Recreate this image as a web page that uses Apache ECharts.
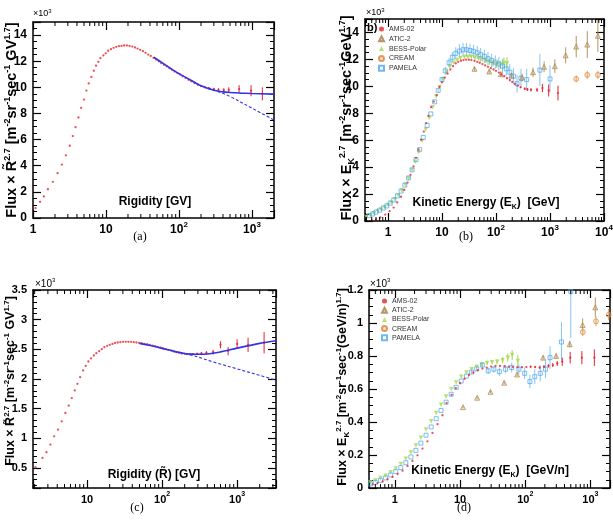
<!DOCTYPE html>
<html><head><meta charset="utf-8">
<script src="https://cdn.jsdelivr.net/npm/echarts@6/dist/echarts.min.js"></script>
<style>html,body{margin:0;padding:0;background:#fff}#c{width:613px;height:521px}</style>
</head><body><div id="c"></div>
<script>
// ---------------- DATA ----------------
// (a) proton flux x R^2.7 vs rigidity  [x, y(x10^3), err]
const aAms = [[1.08,0.76,0],[1.25,1.24,0],[1.41,1.65,0],[1.6,2.2,0],[1.87,2.77,0],[2.17,3.43,0],[2.49,4.09,0],[2.82,4.8,0],[3.19,5.53,0],[3.51,6.27,0],[3.82,6.95,0],[4.19,7.69,0],[4.56,8.43,0],[5.0,9.06,0],[5.39,9.75,0],[5.8,10.3,0],[6.3,10.8,0],[6.8,11.27,0],[7.3,11.65,0],[7.86,11.95,0],[8.4,12.23,0],[9.2,12.44,0],[9.9,12.6,0],[10.7,12.8,0],[11.7,12.92,0],[12.7,13.02,0],[13.8,13.1,0],[15.0,13.15,0],[16.3,13.17,0],[17.7,13.2,0],[19.3,13.2,0],[21,13.17,0],[22.9,13.12,0],[24.9,13.05,0],[27,12.97,0],[29.4,12.87,0],[32,12.77,0],[34.8,12.64,0],[37.9,12.51,0],[41,12.4,0],[44.7,12.26,0],[48.7,12.13,0],[53,11.98,0],[57,11.85,0],[62,11.73,0],[68,11.6,0],[74,11.47,0],[80,11.35,0],[87,11.22,0],[95,11.09,0],[103,10.99,0],[112,10.84,0],[123,10.71,0],[135,10.58,0],[148,10.46,0],[163,10.33,0.05],[181,10.2,0.05],[201,10.1,0.06],[226,10.0,0.07],[258,9.92,0.08],[300,9.87,0.09],[347,9.82,0.1],[410,9.8,0.12],[480,9.8,0.2],[665,9.87,0.3],[970,9.74,0.42],[1385,9.5,0.5]];
const aFit = [[45,12.3],[60,11.85],[80,11.38],[100,11.05],[150,10.5],[200,10.12],[300,9.78],[400,9.65],[500,9.6],[700,9.56],[1000,9.53],[2000,9.48]];
const aPow = [[250,9.95],[300,9.8],[500,9.3],[1000,8.4],[2000,7.5]];

// (b) proton flux x Ek^2.7 vs kinetic energy
const bAms = [[0.5,0.05,0],[0.6,0.12,0],[0.72,0.26,0],[0.89,0.48,0],[1.07,0.73,0],[1.27,1.0,0],[1.48,1.38,0],[1.74,1.8,0],[2.0,2.31,0],[2.3,2.85,0],[2.61,3.43,0],[2.97,4.06,0],[3.29,4.69,0],[3.67,5.31,0],[4.11,6.03,0],[4.61,6.64,0],[5.09,7.27,0],[5.61,7.81,0],[6.29,8.45,0],[7.06,8.87,0],[8.0,9.35,0],[9.0,9.95,0],[10,10.3,0],[11.3,10.65,0],[12.7,10.95,0],[14.3,11.25,0],[16,11.5,0],[18,11.7,0],[20,11.82,0],[22.5,11.9,0],[25,11.95,0],[28,11.98,0],[31.5,11.98,0],[35,11.95,0],[40,11.9,0],[45,11.82,0],[50,11.75,0],[56,11.65,0],[63,11.55,0],[71,11.45,0],[80,11.35,0],[90,11.25,0],[100,11.15,0],[113,11.02,0],[126,10.88,0],[142,10.75,0],[160,10.6,0],[180,10.45,0],[200,10.32,0],[225,10.18,0],[253,10.05,0],[285,9.93,0.05],[341,9.82,0.08],[383,9.77,0.1],[446,9.74,0.12],[576,9.74,0.15],[724,9.87,0.3],[946,9.69,0.45],[1406,9.5,0.55]];
const bAtic = [[40,11.3,0.15],[75,11.1,0.15],[123,10.9,0.2],[194,10.8,0.2],[304,10.65,0.3],[485,11.05,0.35],[778,11.45,0.4],[1230,11.5,0.5],[1950,12.3,0.6],[3060,12.95,0.8],[4900,13.1,1.0],[7700,13.75,1.2]];
const bBess = [[0.4,0.3,0],[0.47,0.43,0],[0.55,0.58,0],[0.65,0.72,0],[0.75,0.86,0],[0.87,1.02,0],[1.0,1.18,0],[1.15,1.38,0],[1.33,1.62,0],[1.55,1.92,0],[1.8,2.27,0],[2.1,2.7,0],[2.4,3.15,0],[2.8,3.78,0],[3.2,4.4,0],[3.7,5.1,0],[4.3,5.95,0],[5.0,6.8,0],[5.8,7.65,0],[6.7,8.45,0],[7.8,9.25,0],[9,9.95,0],[10.5,10.55,0],[12.2,11.05,0],[14,11.45,0],[16.5,11.75,0],[19,11.95,0],[22,12.1,0.1],[26,12.18,0.1],[30,12.2,0.1],[35,12.2,0.12],[41,12.15,0.12],[48,12.08,0.15],[56,12.0,0.15],[65,11.9,0.18],[76,11.8,0.2],[88,11.7,0.22],[103,11.62,0.25],[120,11.6,0.3],[140,11.75,0.4],[160,11.7,0.45]];
const bCream = [[3060,10.55,0.25],[4900,10.85,0.3],[7700,10.85,0.3]];
const bPamela = [[0.45,0.4,0],[0.52,0.52,0],[0.6,0.66,0],[0.7,0.8,0],[0.82,0.96,0],[0.95,1.12,0],[1.1,1.32,0],[1.28,1.56,0],[1.5,1.86,0],[1.75,2.22,0],[2.05,2.66,0],[2.4,3.2,0],[2.8,3.8,0],[3.3,4.55,0],[3.85,5.3,0],[4.5,6.2,0],[5.3,7.1,0],[6.2,7.95,0],[7.3,8.85,0],[8.5,9.7,0.1],[10,10.5,0.2],[11.5,11.15,0.3],[13.5,11.75,0.35],[15.5,12.15,0.4],[18,12.45,0.45],[21,12.62,0.5],[24.5,12.72,0.5],[28.5,12.72,0.5],[33,12.66,0.5],[38.5,12.6,0.5],[45,12.5,0.5],[52,12.35,0.5],[61,12.22,0.5],[71,12.05,0.5],[83,11.92,0.5],[97,11.8,0.5],[113,11.66,0.5],[132,11.5,0.55],[155,11.3,0.55],[180,11.05,0.6],[210,10.75,0.6],[245,10.2,0.65],[290,10.6,0.7],[370,10.5,0.8],[650,11.2,1.2],[1000,10.55,1.0]];

// (c) helium flux x R^2.7 vs rigidity
const cAms = [[2.05,0.51,0],[2.54,0.668,0],[2.87,0.763,0],[3.24,0.892,0],[3.63,1.032,0],[4.1,1.144,0],[4.59,1.285,0],[5.14,1.425,0],[5.7,1.548,0],[6.25,1.677,0],[6.85,1.806,0],[7.44,1.918,0],[8.07,2.03,0],[8.85,2.143,0],[9.6,2.221,0],[10.4,2.294,0],[11.3,2.345,0],[12.3,2.395,0],[13.3,2.434,0],[14.5,2.468,0],[15.7,2.502,0],[17,2.535,0],[18.5,2.558,0],[20,2.575,0],[21.8,2.591,0],[23.6,2.608,0],[25.6,2.614,0],[27.8,2.62,0],[30.2,2.625,0],[32.8,2.625,0],[35.6,2.625,0],[38.6,2.625,0],[41.9,2.62,0],[45.5,2.614,0],[49.4,2.608,0],[53.6,2.603,0],[58.1,2.591,0],[63.1,2.586,0],[68.5,2.575,0],[74.3,2.563,0],[80.7,2.552,0],[87.5,2.541,0],[95,2.53,0],[103,2.518,0],[112,2.502,0],[121,2.49,0],[132,2.479,0],[143,2.462,0],[155,2.451,0],[169,2.44,0],[183,2.429,0],[199,2.423,0],[215,2.418,0.01],[234,2.418,0.01],[259,2.418,0.015],[293,2.423,0.02],[334,2.429,0.025],[390,2.44,0.03],[479,2.45,0.04],[600,2.575,0.06],[759,2.47,0.07],[1000,2.59,0.08],[1400,2.575,0.12],[2290,2.61,0.18]];
const cFit = [[50,2.6],[70,2.565],[100,2.515],[150,2.46],[200,2.43],[250,2.418],[300,2.415],[400,2.42],[600,2.456],[1000,2.52],[2000,2.6],[3300,2.645]];
const cPow = [[200,2.43],[300,2.37],[500,2.28],[1000,2.17],[2000,2.06],[3300,1.98]];

// (d) helium flux x Ek^2.7 vs kinetic energy per nucleon
const dAms = [[0.455,0.022,0],[0.54,0.03,0],[0.65,0.04,0],[0.77,0.053,0],[0.92,0.067,0],[1.1,0.085,0],[1.31,0.105,0],[1.56,0.134,0],[1.86,0.164,0],[2.22,0.198,0],[2.65,0.239,0],[3.16,0.283,0],[3.77,0.334,0],[4.5,0.387,0],[5.37,0.441,0],[6.2,0.515,0],[7.4,0.565,0],[8.6,0.605,0],[10,0.635,0],[11.7,0.662,0],[13.7,0.685,0],[16,0.7,0],[18.7,0.714,0],[22,0.724,0],[25.6,0.73,0],[30,0.736,0],[35,0.74,0],[41,0.74,0],[48,0.738,0],[56,0.735,0],[65,0.733,0],[76,0.732,0],[89,0.732,0],[104,0.733,0],[121,0.735,0.005],[142,0.733,0.006],[166,0.73,0.007],[194,0.735,0.008],[227,0.74,0.01],[265,0.745,0.012],[310,0.755,0.015],[370,0.765,0.025],[490,0.79,0.035],[740,0.79,0.04],[1150,0.79,0.05]];
const dAtic = [[11.1,0.49,0.005],[18.3,0.547,0.006],[29.3,0.583,0.007],[47.5,0.638,0.008],[75,0.688,0.01],[188,0.79,0.012],[298,0.8,0.015],[482,0.872,0.02],[760,0.988,0.04],[1190,1.095,0.06]];
const dBess = [[0.42,0.035,0],[0.5,0.045,0],[0.6,0.06,0],[0.72,0.075,0],[0.86,0.095,0],[1.03,0.118,0],[1.23,0.145,0],[1.47,0.178,0],[1.76,0.215,0],[2.1,0.258,0],[2.5,0.305,0],[3.0,0.355,0],[3.6,0.405,0],[4.3,0.455,0],[5.1,0.505,0],[6.1,0.555,0],[7.3,0.6,0],[8.7,0.64,0],[10.4,0.675,0],[12.5,0.7,0],[15,0.72,0],[18,0.735,0.005],[21.5,0.748,0.008],[26,0.757,0.01],[31,0.762,0.012],[37,0.765,0.015],[45,0.775,0.02],[54,0.79,0.025],[63,0.806,0.03],[77,0.77,0.035]];
const dCream = [[765,0.945,0.025],[1220,1.01,0.03],[1910,1.05,0.035]];
const dPamela = [[0.42,0.025,0],[0.5,0.034,0],[0.6,0.046,0],[0.72,0.061,0],[0.86,0.079,0],[1.03,0.1,0],[1.23,0.124,0],[1.47,0.153,0],[1.76,0.188,0],[2.1,0.228,0],[2.5,0.272,0],[3.0,0.32,0],[3.6,0.37,0],[4.3,0.42,0],[5.1,0.47,0],[6.1,0.52,0],[7.3,0.568,0],[8.7,0.61,0],[10.4,0.648,0],[12.5,0.678,0],[15,0.703,0.01],[18,0.722,0.012],[22,0.745,0.015],[27,0.71,0.02],[33,0.72,0.02],[40,0.705,0.025],[50,0.72,0.025],[62,0.73,0.03],[80,0.72,0.03],[98,0.695,0.035],[118,0.645,0.04],[140,0.675,0.045],[170,0.695,0.05],[205,0.72,0.055],[240,0.79,0.07],[360,0.885,0.12],[500,1.19,0.28]];

const legendNames = ['AMS-02','ATIC-2','BESS-Polar','CREAM','PAMELA'];
const xRanges = [[1,2000],[0.375,10000],[1.9,3300],[0.4,2000]];
const yRanges = [[0,15],[0,15],[0.16,3.5],[0,1.2]];

// ---------------- LAYOUT / STYLE ----------------
const FF = '"Liberation Sans", Arial, Helvetica, sans-serif';
const grids = [
  {left:33, top:22, width:241, height:196},
  {left:365, top:19, width:239, height:202},
  {left:33, top:290, width:243, height:198},
  {left:369, top:290, width:241, height:198}
];
grids.forEach(g => { g.containLabel = false; g.outerBoundsMode = 'none'; g.show = false; });

function logLabel(v){
  const e = Math.log10(v), r = Math.round(e);
  if (Math.abs(e - r) > 1e-6) return '';
  if (r === 0) return '1';
  if (r === 1) return '10';
  return '10{s|' + r + '}';
}
const AX_LINE = {show:true, onZero:false, lineStyle:{color:'#000', width:1.5}};
function xAx(gi, fs, pos){
  const top = pos === 'top';
  return {type:'log', logBase:10, gridIndex:gi, position:pos, min:xRanges[gi][0], max:xRanges[gi][1],
    axisLine:AX_LINE,
    axisTick:{show:true, inside:true, length:8, lineStyle:{color:'#000', width:1.2}},
    axisLabel:{show:!top, formatter:logLabel, fontSize:fs, fontWeight:'bold', fontFamily:FF, color:'#000', margin:3, lineHeight:fs+6,
      rich:{s:{fontSize:Math.round(fs*0.65), fontWeight:'bold', fontFamily:FF, color:'#000', verticalAlign:'top', lineHeight:Math.round(fs*0.7)}}},
    splitLine:{show:false}};
}
function yAx(gi, fs, pos, opt){
  const right = pos === 'right';
  const a = {type:'value', gridIndex:gi, position:pos, min:yRanges[gi][0], max:yRanges[gi][1],
    axisLine:AX_LINE,
    axisTick:{show:true, inside:true, length:8, lineStyle:{color:'#000', width:1.2}},
    minorTick:{show:true, splitNumber:opt.minor, length:4, lineStyle:{color:'#000', width:1}},
    axisLabel:{show:!right, fontSize:fs, fontWeight:'bold', fontFamily:FF, color:'#000', margin:6,
      showMinLabel:opt.showMin, showMaxLabel:opt.showMax},
    splitLine:{show:false}};
  if (opt.interval) a.interval = opt.interval;
  if (opt.split) a.splitNumber = opt.split;
  return a;
}
const yOpts = [
  {interval:2, minor:4, showMin:true, showMax:false},
  {interval:2, minor:4, showMin:true, showMax:false},
  {split:7, minor:5, showMin:false, showMax:true},
  {interval:0.2, minor:4, showMin:true, showMax:true}
];
const fsTick = [12,12,11,11];
const xAxes = [], yAxes = [];
for (let i = 0; i < 4; i++) {
  xAxes.push(xAx(i, fsTick[i], 'bottom'), xAx(i, fsTick[i], 'top'));
  yAxes.push(yAx(i, fsTick[i], 'left', yOpts[i]), yAx(i, fsTick[i], 'right', yOpts[i]));
}

const series = [];
function errRender(color){
  return function(params, api){
    const cs = params.coordSys;
    const p1 = api.coord([api.value(0), api.value(1)]);
    const p2 = api.coord([api.value(0), api.value(2)]);
    const cl = y => Math.min(Math.max(y, cs.y), cs.y + cs.height);
    return {type:'line', shape:{x1:p1[0], y1:cl(p1[1]), x2:p1[0], y2:cl(p2[1])}, style:{stroke:color, lineWidth:1}};
  };
}
function addPts(gi, name, data, sty, errColor){
  const eb = data.filter(d => d[2] > 0).map(d => [d[0], d[1]-d[2], d[1]+d[2]]);
  if (eb.length) series.push({type:'custom', xAxisIndex:2*gi, yAxisIndex:2*gi, data:eb, encode:{x:0, y:[1,2]},
    renderItem:errRender(errColor), silent:true, z:1});
  series.push(Object.assign({type:'scatter', name:name, xAxisIndex:2*gi, yAxisIndex:2*gi,
    data:data.map(d => [d[0], d[1]]), silent:true, z:2}, sty));
}
function addLine(gi, data, dashed){
  series.push({type:'line', xAxisIndex:2*gi, yAxisIndex:2*gi, data:data, symbol:'none', showSymbol:false, smooth:0.35,
    silent:true, z:3, lineStyle:{color:'#3232e8', width:dashed ? 1.1 : 1.6, type:dashed ? [3,2] : 'solid'}});
}
const S = {
  ams: {symbol:'circle', symbolSize:2.3, itemStyle:{color:'#e8232a'}},
  atic: {symbol:'triangle', symbolSize:5, itemStyle:{color:'rgba(200,170,120,0.45)', borderColor:'#a57f45', borderWidth:0.8}},
  bess: {symbol:'triangle', symbolRotate:180, symbolSize:4.5, itemStyle:{color:'#a8d94c'}},
  cream: {symbol:'circle', symbolSize:5, itemStyle:{color:'rgba(240,180,120,0.45)', borderColor:'#d9853b', borderWidth:0.8}},
  pamela: {symbol:'rect', symbolSize:4, itemStyle:{color:'rgba(255,255,255,0)', borderColor:'#4da6f0', borderWidth:0.9}}
};
const EC = {ams:'#e8232a', atic:'#b89560', bess:'#a8d94c', cream:'#e0a060', pamela:'#86c4f5'};

// (a)
addPts(0, 'AMS-02 p', aAms, S.ams, EC.ams);
addLine(0, aPow, true); addLine(0, aFit, false);
// (b)
addPts(1, 'BESS-Polar', bBess, S.bess, EC.bess);
addPts(1, 'PAMELA', bPamela, S.pamela, EC.pamela);
addPts(1, 'ATIC-2', bAtic, S.atic, EC.atic);
addPts(1, 'CREAM', bCream, S.cream, EC.cream);
addPts(1, 'AMS-02', bAms, S.ams, EC.ams);
// (c)
addPts(2, 'AMS-02 He', cAms, S.ams, EC.ams);
addLine(2, cPow, true); addLine(2, cFit, false);
// (d)
addPts(3, 'BESS-Polar', dBess, S.bess, EC.bess);
addPts(3, 'PAMELA', dPamela, S.pamela, EC.pamela);
addPts(3, 'ATIC-2', dAtic, S.atic, EC.atic);
addPts(3, 'CREAM', dCream, S.cream, EC.cream);
addPts(3, 'AMS-02', dAms, S.ams, EC.ams);

// minor log ticks (2..9 per decade) on bottom and top of each panel
for (let i = 0; i < 4; i++) {
  const [mn, mx] = xRanges[i], ticks = [];
  for (let d = Math.floor(Math.log10(mn)); d <= Math.ceil(Math.log10(mx)); d++)
    for (let k = 2; k <= 9; k++) { const v = k * Math.pow(10, d); if (v > mn && v < mx) ticks.push([v, yRanges[i][0]]); }
  series.push({type:'custom', xAxisIndex:2*i, yAxisIndex:2*i, data:ticks, silent:true, z:5,
    renderItem:function(params, api){
      const cs = params.coordSys, x = api.coord([api.value(0), api.value(1)])[0];
      const b = cs.y + cs.height;
      return {type:'group', children:[
        {type:'line', shape:{x1:x, y1:b, x2:x, y2:b-4}, style:{stroke:'#000', lineWidth:1}},
        {type:'line', shape:{x1:x, y1:cs.y, x2:x, y2:cs.y+4}, style:{stroke:'#000', lineWidth:1}}]};
    }});
}

// ---------------- TEXT ----------------
function rs(f, w){
  w = w || 'bold';
  return {
    n:{fontSize:f, fontWeight:w, fontFamily:FF, color:'#000', lineHeight:Math.round(f*1.25)},
    p:{fontSize:Math.round(f*0.62), fontWeight:w, fontFamily:FF, color:'#000', verticalAlign:'top', lineHeight:Math.round(f*0.65)},
    b:{fontSize:Math.round(f*0.62), fontWeight:w, fontFamily:FF, color:'#000', verticalAlign:'bottom', lineHeight:Math.round(f*0.65)}
  };
}
function txt(x, y, text, f, o){
  o = o || {};
  const al = o.align || 'center';
  return {type:'text', x:x, y:y, rotation:o.rot || 0, z:100, silent:true,
    style:{text:text, rich:rs(f, o.w), align:al, textAlign:al, verticalAlign:'middle', textVerticalAlign:'middle'}};
}
function plain(x, y, text, f, fam){
  return {type:'text', x:x, y:y, z:100, silent:true,
    style:{text:text, fontSize:f, fontFamily:fam, fill:'#000', align:'center', textAlign:'center', verticalAlign:'middle', textVerticalAlign:'middle'}};
}
const R = 'R\u0303';
const yTitleR = '{n|Flux \u00d7 ' + R + '}{p|2.7}{n| [m}{p|-2}{n|sr}{p|-1}{n|sec}{p|-1}{n| GV}{p|1.7}{n|]}';
const yTitleB = '{n|Flux \u00d7 E}{b|K}{p|2.7}{n| [m}{p|-2}{n|sr}{p|-1}{n|sec}{p|-1}{n|GeV}{p|1.7}{n|]}';
const yTitleD = '{n|Flux \u00d7 E}{b|K}{p|2.7}{n| [m}{p|-2}{n|sr}{p|-1}{n|sec}{p|-1}{n|(GeV/n)}{p|1.7}{n|]}';
const PI2 = Math.PI / 2;
const graphics = [
  txt(12, 120, yTitleR, 14.5, {rot:PI2}),
  txt(347, 118, yTitleB, 14.5, {rot:PI2}),
  txt(11, 381, yTitleR, 12.5, {rot:PI2}),
  txt(343, 387, yTitleD, 12.5, {rot:PI2}),
  txt(155, 202, '{n|Rigidity [GV]}', 12),
  txt(486, 203, '{n|Kinetic Energy (E}{b|K}{n|)  [GeV]}', 12),
  txt(154, 475, '{n|Rigidity (' + R + ') [GV]}', 12),
  txt(490, 471, '{n|Kinetic Energy (E}{b|K}{n|)  [GeV/n]}', 12),
  txt(33, 14, '{n|\u00d710}{p|3}', 9, {align:'left', w:'normal'}),
  txt(366, 13, '{n|\u00d710}{p|3}', 9, {align:'left', w:'normal'}),
  txt(35, 284, '{n|\u00d710}{p|3}', 10, {align:'left', w:'normal'}),
  txt(370, 284, '{n|\u00d710}{p|3}', 10, {align:'left', w:'normal'}),
  txt(367, 28, '{n|b)}', 11, {align:'left'}),
  plain(140, 237, '(a)', 12, '"Liberation Serif", serif'),
  plain(466, 237, '(b)', 12, '"Liberation Serif", serif'),
  plain(137, 508, '(c)', 12, '"Liberation Serif", serif'),
  plain(464, 508, '(d)', 12, '"Liberation Serif", serif')
];

const legendBase = {data:legendNames, orient:'vertical', itemWidth:5, itemHeight:5, padding:0, selectedMode:false,
  textStyle:{fontSize:7, fontFamily:FF, color:'#333', lineHeight:8}};

const chart = echarts.init(document.getElementById('c'));
chart.setOption({
  animation:false,
  backgroundColor:'#fff',
  tooltip:{show:false},
  grid:grids,
  xAxis:xAxes,
  yAxis:yAxes,
  legend:[
    Object.assign({}, legendBase, {left:378, top:25, itemGap:1.8}),
    Object.assign({}, legendBase, {left:381, top:297, itemGap:1.2})
  ],
  series:series,
  graphic:graphics
});
</script></body></html>
